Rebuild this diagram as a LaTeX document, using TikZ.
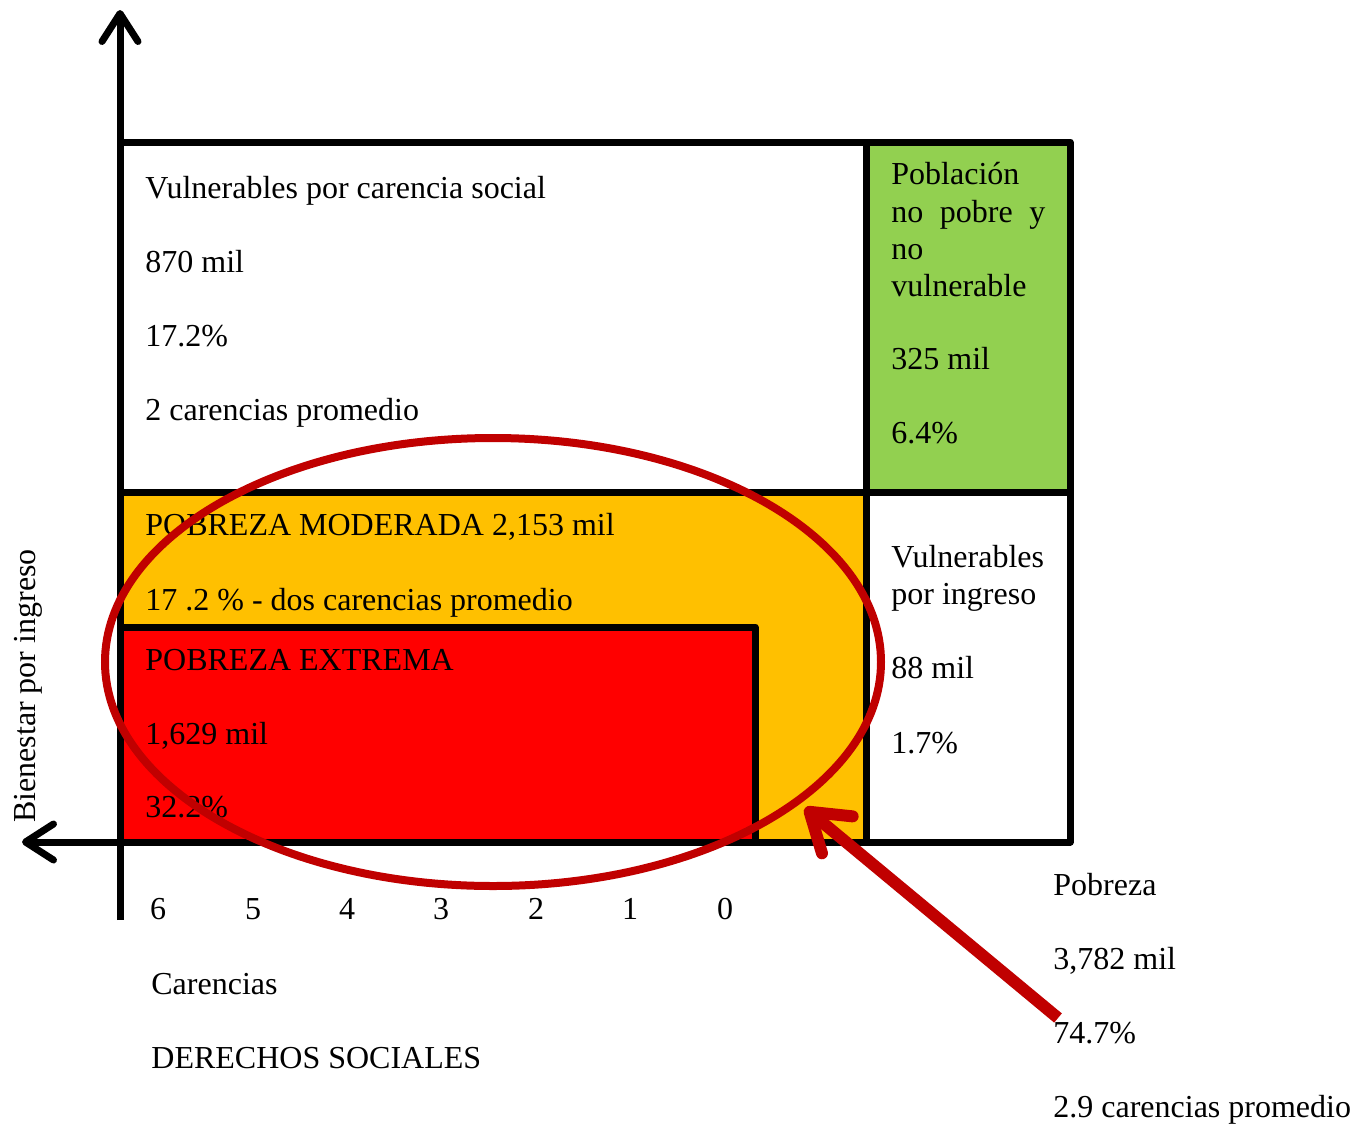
\documentclass[tikz,border=0pt]{standalone}
\usepackage{fontspec}
\setmainfont{Liberation Serif}
\usetikzlibrary{arrows.meta}
\definecolor{verde}{RGB}{146,208,80}
\definecolor{naranja}{RGB}{255,192,0}
\definecolor{rojo}{RGB}{255,0,0}
\definecolor{vino}{RGB}{192,0,0}
\tikzset{
   txt/.style={anchor=base west, inner sep=0pt, font=\fontsize{16}{19}\selectfont},
   num/.style={anchor=base, inner sep=0pt, font=\fontsize{16}{19}\selectfont},
   caja/.style={line width=3.5pt, line join=round},
   eje/.style={line width=3.5pt, -{Straight Barb[round, length=14pt, width=18pt]}}
}

\begin{document}
\begin{tikzpicture}[x=0.5pt, y=-0.5pt]
   \useasboundingbox (0,0) rectangle (1367,1126);
   \fill [white] (0,0) rectangle (1367,1126);

   \draw [caja, fill=white  ] (120,142) rectangle (866,492);
   \draw [caja, fill=verde  ] (866,142) rectangle (1070,492);
   \draw [caja, fill=naranja] (120,492) rectangle (866,842);
   \draw [caja, fill=white  ] (866,492) rectangle (1070,842);
   \draw [caja, fill=rojo   ] (120,627) rectangle (755,842);

   \draw [eje] (120,920) -- (120,10);
   \draw [eje] (120,842) -- (22,842);

   \node [txt] (vcs)   at (145,198) {Vulnerables por carencia social};
   \node [txt] (vcs2)  at (145,272) {870 mil};
   \node [txt] (vcs3)  at (145,346) {17.2\%};
   \node [txt] (vcs4)  at (145,420) {2 carencias promedio};

   \node [txt] (nopo)  at (891,184) {Población};
   \node [txt] (nopo2) at (891,222) {\makebox[77pt][s]{no\hfill pobre\hfill y}};
   \node [txt] (nopo3) at (891,259) {no};
   \node [txt] (nopo4) at (891,296) {vulnerable};
   \node [txt] (nopo5) at (891,369) {325 mil};
   \node [txt] (nopo6) at (891,443) {6.4\%};

   \node [txt] (pmod)  at (145,535) {POBREZA MODERADA 2,153 mil};
   \node [txt] (pmod2) at (145,610) {17 .2 \% - dos carencias promedio};

   \node [txt] (pext)  at (145,670) {POBREZA EXTREMA};
   \node [txt] (pext2) at (145,744) {1,629 mil};
   \node [txt] (pext3) at (145,817) {32.2\%};

   \node [txt] (vpi)   at (891,567) {Vulnerables};
   \node [txt] (vpi2)  at (891,604) {por ingreso};
   \node [txt] (vpi3)  at (891,678) {88 mil};
   \node [txt] (vpi4)  at (891,753) {1.7\%};

   \node [num] (c6) at (158,919) {6};
   \node [num] (c5) at (253,919) {5};
   \node [num] (c4) at (347,919) {4};
   \node [num] (c3) at (441,919) {3};
   \node [num] (c2) at (536,919) {2};
   \node [num] (c1) at (630,919) {1};
   \node [num] (c0) at (725,919) {0};

   \node [txt] (car)   at (151,994)  {Carencias};
   \node [txt] (der)   at (151,1068) {DERECHOS SOCIALES};

   \node [txt] (pob)   at (1053,895)  {Pobreza};
   \node [txt] (pob2)  at (1053,969)  {3,782 mil};
   \node [txt] (pob3)  at (1053,1043) {74.7\%};
   \node [txt] (pob4)  at (1053,1117) {2.9 carencias promedio};

   \node [num, rotate=90] (bien) at (35,686) {Bienestar por ingreso};

   \draw [vino, line width=4pt] (493,662) ellipse (388 and 224);

   \coordinate (ini) at (1058,1018);
   \coordinate (fin) at (805,808);
   \draw [vino, line width=6pt, -{Straight Barb[round, length=18pt, width=24pt]}] (ini) -- (fin);
\end{tikzpicture}
\end{document}
